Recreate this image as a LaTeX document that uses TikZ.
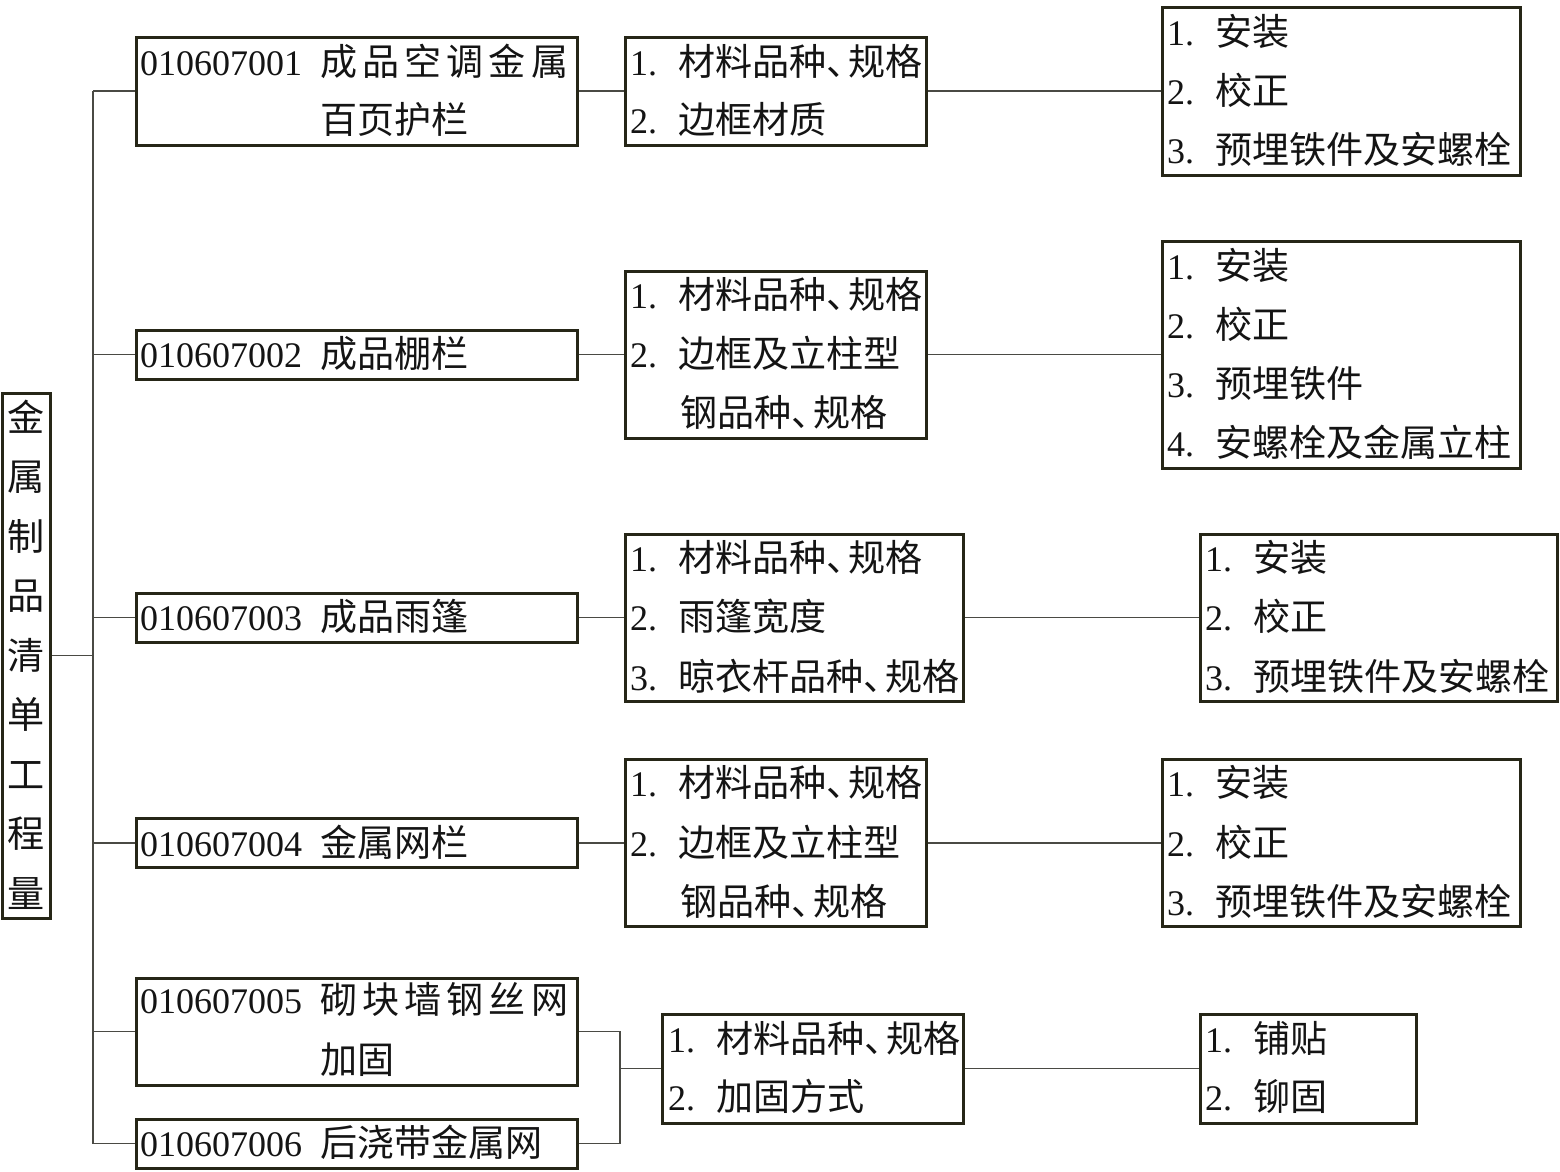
\documentclass[tikz,border=0pt]{standalone}
\usepackage{fontspec}
\setmainfont{Liberation Serif}
\newfontfamily\cjk[Scale=1.03]{Noto Sans CJK SC}
\newcommand\zh[1]{{\cjk #1}}
\newcommand\dun{\makebox[0.6em][l]{\cjk 、}}
\newcommand\num[1]{\makebox[48pt][l]{#1}}
\newcommand\code[1]{\makebox[180pt][l]{#1}}
\definecolor{boxc}{HTML}{262617}
\definecolor{connc}{HTML}{4A4A44}
\definecolor{txtc}{HTML}{141414}
\begin{document}
\begin{tikzpicture}[x=1pt,y=-1pt,
  box/.style={draw=boxc,line width=3pt,inner sep=0pt,rectangle},
  conn/.style={draw=connc,line width=1.5pt},
  txt/.style={anchor=base west,inner sep=0pt,font=\fontsize{36}{40}\selectfont,text=txtc}]
\useasboundingbox[fill=white] (0,0) rectangle (1560,1171);
\newcommand\T[4]{\node[txt] (#1) at (#2,{#3+13}) {#4};}
% boxes
\node[box,minimum width=48pt,minimum height=525pt] (root) at (26,655.5) {};
\node[box,minimum width=441pt,minimum height=108pt] (A1) at (356.5,91) {};
\node[box,minimum width=441pt,minimum height=49pt] (A2) at (356.5,354.5) {};
\node[box,minimum width=441pt,minimum height=49pt] (A3) at (356.5,617.5) {};
\node[box,minimum width=441pt,minimum height=49pt] (A4) at (356.5,843) {};
\node[box,minimum width=441pt,minimum height=107pt] (A5) at (356.5,1031.5) {};
\node[box,minimum width=441pt,minimum height=49pt] (A6) at (356.5,1143.5) {};
\node[box,minimum width=301pt,minimum height=108pt] (B1) at (775.5,91) {};
\node[box,minimum width=301pt,minimum height=167pt] (B2) at (775.5,354.5) {};
\node[box,minimum width=338pt,minimum height=167pt] (B3) at (794,617.5) {};
\node[box,minimum width=301pt,minimum height=167pt] (B4) at (775.5,843) {};
\node[box,minimum width=301pt,minimum height=109pt] (B5) at (812.5,1068.5) {};
\node[box,minimum width=358pt,minimum height=168pt] (C1) at (1341,91) {};
\node[box,minimum width=358pt,minimum height=227pt] (C2) at (1341,354.5) {};
\node[box,minimum width=357pt,minimum height=167pt] (C3) at (1378.5,617.5) {};
\node[box,minimum width=358pt,minimum height=167pt] (C4) at (1341,843) {};
\node[box,minimum width=216pt,minimum height=109pt] (C5) at (1308,1068.5) {};
% root text
\foreach \c [count=\i from 0] in {金,属,制,品,清,单,工,程,量}
  \node[txt,anchor=base] (r\i) at (26,{418+59.5*\i+13}) {\zh{\c}};
% level 1 text
\T{a1a}{140}{62}{\code{010607001}\makebox[248pt][l]{\cjk 成\hfill 品\hfill 空\hfill 调\hfill 金\hfill 属}}
\T{a1b}{320}{120}{\zh{百页护栏}}
\T{a2}{140}{354}{\code{010607002}\zh{成品棚栏}}
\T{a3}{140}{617}{\code{010607003}\zh{成品雨篷}}
\T{a4}{140}{843}{\code{010607004}\zh{金属网栏}}
\T{a5a}{140}{1000}{\code{010607005}\makebox[248pt][l]{\cjk 砌\hfill 块\hfill 墙\hfill 钢\hfill 丝\hfill 网}}
\T{a5b}{320}{1060}{\zh{加固}}
\T{a6}{140}{1143}{\code{010607006}\zh{后浇带金属网}}
% level 2 text
\T{b1a}{630}{62}{\num{1.}\zh{材料品种}\dun\zh{规格}}
\T{b1b}{630}{120}{\num{2.}\zh{边框材质}}
\T{b2a}{630}{295}{\num{1.}\zh{材料品种}\dun\zh{规格}}
\T{b2b}{630}{354}{\num{2.}\zh{边框及立柱型}}
\T{b2c}{680}{413}{\zh{钢品种}\dun\zh{规格}}
\T{b3a}{630}{558}{\num{1.}\zh{材料品种}\dun\zh{规格}}
\T{b3b}{630}{617}{\num{2.}\zh{雨篷宽度}}
\T{b3c}{630}{677}{\num{3.}\zh{晾衣杆品种}\dun\zh{规格}}
\T{b4a}{630}{783}{\num{1.}\zh{材料品种}\dun\zh{规格}}
\T{b4b}{630}{843}{\num{2.}\zh{边框及立柱型}}
\T{b4c}{680}{902}{\zh{钢品种}\dun\zh{规格}}
\T{b5a}{668}{1039}{\num{1.}\zh{材料品种}\dun\zh{规格}}
\T{b5b}{668}{1097}{\num{2.}\zh{加固方式}}
% level 3 text
\T{c1a}{1167}{32}{\num{1.}\zh{安装}}
\T{c1b}{1167}{91}{\num{2.}\zh{校正}}
\T{c1c}{1167}{150}{\num{3.}\zh{预埋铁件及安螺栓}}
\T{c2a}{1167}{266}{\num{1.}\zh{安装}}
\T{c2b}{1167}{325}{\num{2.}\zh{校正}}
\T{c2c}{1167}{384}{\num{3.}\zh{预埋铁件}}
\T{c2d}{1167}{443}{\num{4.}\zh{安螺栓及金属立柱}}
\T{c3a}{1205}{558}{\num{1.}\zh{安装}}
\T{c3b}{1205}{617}{\num{2.}\zh{校正}}
\T{c3c}{1205}{677}{\num{3.}\zh{预埋铁件及安螺栓}}
\T{c4a}{1167}{783}{\num{1.}\zh{安装}}
\T{c4b}{1167}{843}{\num{2.}\zh{校正}}
\T{c4c}{1167}{902}{\num{3.}\zh{预埋铁件及安螺栓}}
\T{c5a}{1205}{1039}{\num{1.}\zh{铺贴}}
\T{c5b}{1205}{1097}{\num{2.}\zh{铆固}}
% connectors
\coordinate (tk) at (93,0);
\coordinate (jn) at (620,0);
\draw[conn] (root.east) -- (root.east -| tk);
\draw[conn] (A1.west -| tk) -- (A6.west -| tk);
\foreach \n in {A1,A2,A3,A4,A5,A6} \draw[conn] (\n.west -| tk) -- (\n.west);
\draw[conn] (A1.east) -- (B1.west);
\draw[conn] (A2.east) -- (B2.west);
\draw[conn] (A3.east) -- (B3.west);
\draw[conn] (A4.east) -- (B4.west);
\draw[conn] (A5.east) -- (A5.east -| jn) -- (A6.east -| jn) -- (A6.east);
\draw[conn] (B5.west -| jn) -- (B5.west);
\draw[conn] (B1.east) -- (C1.west);
\draw[conn] (B2.east) -- (C2.west);
\draw[conn] (B3.east) -- (C3.west);
\draw[conn] (B4.east) -- (C4.west);
\draw[conn] (B5.east) -- (C5.west);
\end{tikzpicture}
\end{document}
